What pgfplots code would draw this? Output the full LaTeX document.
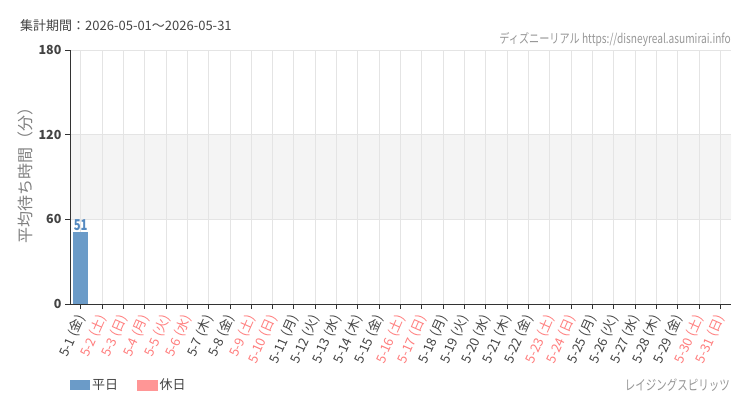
\documentclass[border=0pt]{standalone}
\usepackage{fontspec}
\setmainfont{Noto Sans CJK JP}
\usepackage{pgfplots}
\pgfplotsset{compat=1.18}
\definecolor{wkday}{RGB}{107,155,200}
\definecolor{wklab}{RGB}{85,138,192}
\definecolor{hol}{RGB}{255,150,150}
\definecolor{holtxt}{RGB}{255,125,125}
\definecolor{band}{RGB}{244,244,244}
\definecolor{gridc}{RGB}{228,228,228}
\definecolor{axc}{RGB}{51,51,51}
\definecolor{txt}{RGB}{68,68,68}
\definecolor{credit}{RGB}{150,150,150}
\newcommand{\h}[1]{\textcolor{holtxt}{#1}}
\begin{document}
\begin{tikzpicture}
\path (0pt,0pt) rectangle (750pt,-410pt);
\node[anchor=base west, text=txt, inner sep=0, font=\fontsize{13}{13}\selectfont] at (20pt,-30pt) {集計期間：2026-05-01～2026-05-31};
\node[anchor=base east, text=credit, inner sep=0, font=\fontsize{13}{13}\selectfont] at (731pt,-43pt) {\scalebox{0.78}[1]{ディズニーリアル https://disneyreal.asumirai.info}};
\node[anchor=base east, text=credit, inner sep=0, font=\fontsize{14}{14}\selectfont] at (730pt,-390pt) {\scalebox{0.75}[1]{レイジングスピリッツ}};
\begin{axis}[
  set layers,
  at={(70pt,-304pt)}, anchor=south west,
  scale only axis, width=661pt, height=254pt,
  xmin=-0.5, xmax=30.5, ymin=0, ymax=180,
  xtick={0,...,30},
  xticklabels={
    {5-1 (金)},\h{5-2 (土)},\h{5-3 (日)},\h{5-4 (月)},\h{5-5 (火)},\h{5-6 (水)},
    {5-7 (木)},{5-8 (金)},\h{5-9 (土)},\h{5-10 (日)},{5-11 (月)},{5-12 (火)},
    {5-13 (水)},{5-14 (木)},{5-15 (金)},\h{5-16 (土)},\h{5-17 (日)},{5-18 (月)},
    {5-19 (火)},{5-20 (水)},{5-21 (木)},{5-22 (金)},\h{5-23 (土)},\h{5-24 (日)},
    {5-25 (月)},{5-26 (火)},{5-27 (水)},{5-28 (木)},{5-29 (金)},\h{5-30 (土)},
    \h{5-31 (日)}},
  ytick={0,60,120,180},
  axis lines=left, axis line style={axc, -, line width=0.8pt},
  xmajorgrids, ymajorgrids, grid style={gridc, line width=0.8pt},
  tick align=outside, major tick length=5pt,
  tick style={axc, line width=0.8pt},
  x tick label style={yshift=-4pt, xshift=2pt, rotate=66, anchor=east, text=txt,
    font=\fontsize{13}{13}\selectfont},
  y tick label style={text=txt, font=\fontsize{12.5}{12.5}\selectfont\bfseries},
  /pgf/number format/assume math mode=true,
  ylabel={平均待ち時間（分）},
  ylabel style={at={(axis description cs:-0.068,0.522)}, anchor=center,
    text=gray, font=\fontsize{16}{16}\selectfont},
  legend columns=2,
  legend style={at={(axis description cs:0,-0.319)}, anchor=west,
    draw=none, fill=none, inner sep=0pt, text=txt,
    font=\fontsize{13}{13}\selectfont,
    /tikz/every even column/.append style={column sep=17pt}},
]
\addplot[fill=band, draw=none, on layer=axis background, forget plot]
  coordinates {(-0.5,60) (30.5,60) (30.5,120) (-0.5,120) (-0.5,60)};
\addplot[ybar, bar width=15pt, fill=wkday, draw=none,
  legend image code/.code={\fill[wkday] (0pt,-5pt) rectangle (20pt,5pt);},
  nodes near coords={\scalebox{0.75}[1]{\pgfmathprintnumber{\pgfplotspointmeta}}},
  every node near coord/.append style={text=wklab, inner sep=1.5pt,
    font=\fontsize{15}{15}\selectfont\bfseries}]
  coordinates {(0,51)};
\addlegendentry{平日}
\addlegendimage{legend image code/.code={\fill[hol] (0pt,-5pt) rectangle (20pt,5pt);}}
\addlegendentry{休日}
\end{axis}
\end{tikzpicture}
\end{document}
